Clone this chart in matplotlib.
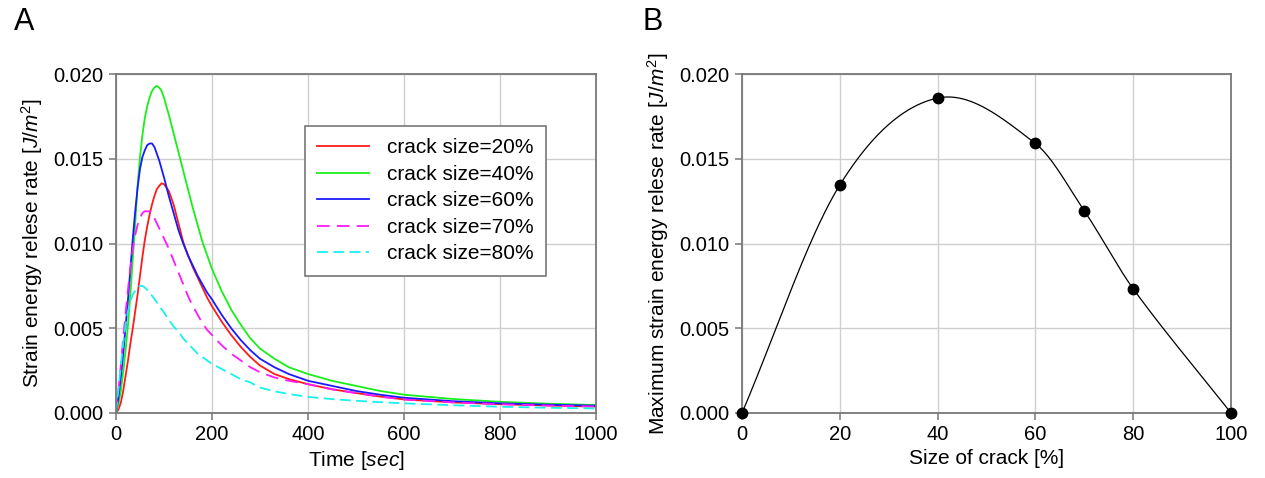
import numpy as np
import matplotlib
matplotlib.use("Agg")
import matplotlib.pyplot as plt
from matplotlib.ticker import FormatStrFormatter, MultipleLocator

plt.rcParams["font.family"] = ["Liberation Sans", "DejaVu Sans"]
plt.rcParams["mathtext.fontset"] = "custom"
plt.rcParams["mathtext.rm"] = "Liberation Sans"
plt.rcParams["mathtext.it"] = "Liberation Sans:italic"

# ---- Panel A: strain energy release rate over time ----
time_s = [0, 5, 10, 15, 20, 25, 30, 35, 40, 45, 50, 55, 60, 65, 70, 75, 80,
          85, 90, 95, 100, 110, 120, 130, 140, 150, 160, 170, 180, 190, 200,
          220, 240, 260, 280, 300, 330, 360, 400, 450, 500, 550, 600, 700,
          800, 900, 1000]

rate_20 = [0, 0.0002, 0.0006, 0.0013, 0.0022, 0.0031, 0.0041, 0.0050, 0.0060,
           0.0070, 0.0081, 0.0092, 0.0102, 0.0110, 0.0117, 0.0123, 0.0128,
           0.0132, 0.0134, 0.01355, 0.0135, 0.0131, 0.0123, 0.0112, 0.0101,
           0.0093, 0.0086, 0.0080, 0.0074, 0.0068, 0.0063, 0.0054, 0.0046,
           0.0039, 0.0033, 0.0028, 0.0023, 0.0020, 0.0017, 0.0014, 0.00118,
           0.00097, 0.00080, 0.00063, 0.00052, 0.00044, 0.00038]
rate_40 = [0, 0.0005, 0.0013, 0.0024, 0.0037, 0.0052, 0.0070, 0.0091, 0.0112,
           0.0134, 0.0151, 0.0164, 0.0174, 0.0181, 0.0186, 0.0190, 0.0192,
           0.0193, 0.0192, 0.0190, 0.0186, 0.0176, 0.0165, 0.0154, 0.0143,
           0.0132, 0.0121, 0.0111, 0.0101, 0.0093, 0.0085, 0.0072, 0.0061,
           0.0052, 0.0044, 0.0038, 0.0032, 0.0027, 0.0023, 0.0019, 0.0016,
           0.0013, 0.00108, 0.00083, 0.00066, 0.00055, 0.00047]
rate_60 = [0, 0.0009, 0.0021, 0.0035, 0.0051, 0.0067, 0.0085, 0.0103, 0.0119,
           0.0133, 0.0144, 0.0151, 0.0155, 0.0158, 0.0159, 0.0159, 0.0157,
           0.0153, 0.0149, 0.0144, 0.0139, 0.0128, 0.0118, 0.0108, 0.0100,
           0.0093, 0.0087, 0.0081, 0.0076, 0.0071, 0.0067, 0.0058, 0.0050,
           0.0043, 0.0037, 0.0032, 0.0027, 0.0023, 0.0019, 0.0016, 0.0013,
           0.00108, 0.00090, 0.00070, 0.00057, 0.00049, 0.00043]
rate_70 = [0, 0.0013, 0.0028, 0.0044, 0.0059, 0.0073, 0.0086, 0.0097, 0.0105,
           0.0111, 0.0115, 0.0118, 0.0119, 0.0119, 0.0119, 0.0117, 0.0115,
           0.0112, 0.0109, 0.0106, 0.0103, 0.0097, 0.0090, 0.0083, 0.0076,
           0.0069, 0.0063, 0.0058, 0.0053, 0.0049, 0.0046, 0.0040, 0.0035,
           0.0031, 0.0027, 0.0024, 0.0021, 0.0019, 0.0017, 0.0014, 0.00118,
           0.00097, 0.00080, 0.00063, 0.00052, 0.00044, 0.00038]
rate_80 = [0, 0.0014, 0.0028, 0.0041, 0.0052, 0.0060, 0.0066, 0.0070, 0.0072,
           0.0074, 0.0075, 0.0075, 0.0074, 0.00727, 0.00710, 0.00692, 0.00673,
           0.00653, 0.00632, 0.00612, 0.00592, 0.0055, 0.0051, 0.0048, 0.0044,
           0.0041, 0.0038, 0.0035, 0.0033, 0.0031, 0.0029, 0.0026, 0.0023,
           0.0020, 0.0018, 0.0015, 0.00128, 0.00112, 0.00095, 0.00082,
           0.00072, 0.00064, 0.00057, 0.00046, 0.00037, 0.00031, 0.00027]

series_labels = ["crack size=20%", "crack size=40%", "crack size=60%",
                 "crack size=70%", "crack size=80%"]

# ---- Panel B: peak release rate against crack size ----
crack_size = [0, 20, 40, 60, 70, 80, 100]
max_rate = [0.0, 0.01345, 0.01858, 0.01590, 0.01193, 0.00733, 0.0]


def smooth_curve(x, y, n=60):
    """Cubic Hermite curve through the points with finite-difference tangents."""
    x = np.asarray(x, float)
    y = np.asarray(y, float)
    m = np.empty_like(y)
    m[0] = (y[1] - y[0]) / (x[1] - x[0])
    m[-1] = (y[-1] - y[-2]) / (x[-1] - x[-2])
    m[1:-1] = (y[2:] - y[:-2]) / (x[2:] - x[:-2])
    xs_all, ys_all = [], []
    for i in range(len(x) - 1):
        h = x[i + 1] - x[i]
        s = np.linspace(0, 1, n)
        h00 = 2 * s**3 - 3 * s**2 + 1
        h10 = s**3 - 2 * s**2 + s
        h01 = -2 * s**3 + 3 * s**2
        h11 = s**3 - s**2
        xs_all.append(x[i] + s * h)
        ys_all.append(h00 * y[i] + h10 * h * m[i] + h01 * y[i + 1]
                      + h11 * h * m[i + 1])
    return np.concatenate(xs_all), np.concatenate(ys_all)


W, H = 1265, 478
fig = plt.figure(figsize=(W / 100, H / 100), dpi=100)

spine_col = "#777777"
grid_col = "#cfcfcf"
tick_fs = 14.5
label_fs = 15


def style_axes(ax):
    for s in ax.spines.values():
        s.set_color(spine_col)
        s.set_linewidth(1.3)
    ax.tick_params(direction="out", length=5, width=1.1, color=spine_col,
                   labelsize=tick_fs, pad=4)
    ax.grid(True, color=grid_col, linewidth=1.0)
    ax.set_axisbelow(True)
    ax.yaxis.set_major_formatter(FormatStrFormatter("%.3f"))
    ax.yaxis.set_major_locator(MultipleLocator(0.005))
    ax.set_ylim(0, 0.020)


def box(l, r, t, b):
    return [l / W, 1 - b / H, (r - l) / W, (b - t) / H]


# Panel A
axA = fig.add_axes(box(116, 596, 74, 413))
style_axes(axA)
axA.set_xlim(0, 1000)
axA.xaxis.set_major_locator(MultipleLocator(200))
lw = 1.3
axA.plot(time_s, rate_20, color="#ff1a1a", lw=lw, label=series_labels[0])
axA.plot(time_s, rate_40, color="#19f019", lw=lw, label=series_labels[1])
axA.plot(time_s, rate_60, color="#1a1aff", lw=lw, label=series_labels[2])
axA.plot(time_s, rate_70, color="#ff19ff", lw=lw, dashes=(7, 4),
         label=series_labels[3])
axA.plot(time_s, rate_80, color="#19f0f0", lw=lw, dashes=(6, 3),
         label=series_labels[4])
axA.set_xlabel(r"Time [$\mathit{sec}$]", fontsize=label_fs, labelpad=3)
axA.set_ylabel(r"Strain energy relese rate [$\mathit{J/m}^2$]",
               fontsize=label_fs, labelpad=6)
leg = axA.legend(loc="upper right", bbox_to_anchor=(0.896, 0.847),
                 borderaxespad=0, fontsize=label_fs, frameon=True,
                 fancybox=False, framealpha=1, edgecolor=spine_col,
                 handlelength=2.5, labelspacing=0.36, handletextpad=0.85,
                 borderpad=0.6)
leg.get_frame().set_linewidth(1.2)

# Panel B
axB = fig.add_axes(box(742, 1231, 74, 413))
style_axes(axB)
axB.set_xlim(0, 100)
axB.xaxis.set_major_locator(MultipleLocator(20))
xs, ys = smooth_curve(crack_size, max_rate)
axB.plot(xs, ys, color="black", lw=0.9)
axB.plot(crack_size, max_rate, "o", color="black", ms=7.5, clip_on=False,
         zorder=5)
axB.set_xlabel("Size of crack [%]", fontsize=label_fs, labelpad=3)
axB.set_ylabel(r"Maximum strain energy relese rate [$\mathit{J/m}^2$]",
               fontsize=label_fs, labelpad=6)

fig.text(14 / W, 1 - 22 / H, "A", fontsize=22, va="center", ha="left")
fig.text(643 / W, 1 - 22 / H, "B", fontsize=22, va="center", ha="left")

fig.savefig("out.png", dpi=100)
